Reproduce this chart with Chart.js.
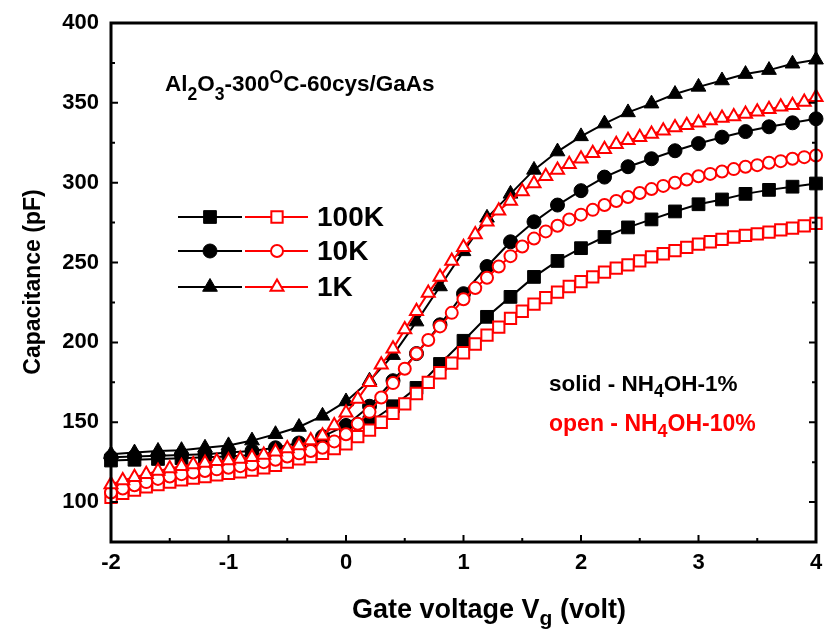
<!DOCTYPE html>
<html>
<head>
<meta charset="utf-8">
<script src="https://cdn.jsdelivr.net/npm/chart.js@4.4.1/dist/chart.umd.min.js"></script>
<style>
  body { margin: 0; background: #fff; }
  #cv { display: block; }
</style>
</head>
<body>
<canvas id="cv" width="826" height="634"></canvas>
<script>
// gate voltage for the solid (NH4OH-1%) curves, every 0.2 V
var vSolid = [-2, -1.8, -1.6, -1.4, -1.2, -1, -0.8, -0.6, -0.4, -0.2, 0, 0.2, 0.4, 0.6, 0.8, 1,
  1.2, 1.4, 1.6, 1.8, 2, 2.2, 2.4, 2.6, 2.8, 3, 3.2, 3.4, 3.6, 3.8, 4];

// gate voltage for the open (NH4OH-10%) curves, every 0.1 V
var vOpen = [-2, -1.9, -1.8, -1.7, -1.6, -1.5, -1.4, -1.3, -1.2, -1.1, -1, -0.9, -0.8, -0.7, -0.6,
  -0.5, -0.4, -0.3, -0.2, -0.1, 0, 0.1, 0.2, 0.3, 0.4, 0.5, 0.6, 0.7, 0.8, 0.9, 1, 1.1, 1.2, 1.3,
  1.4, 1.5, 1.6, 1.7, 1.8, 1.9, 2, 2.1, 2.2, 2.3, 2.4, 2.5, 2.6, 2.7, 2.8, 2.9, 3, 3.1, 3.2, 3.3,
  3.4, 3.5, 3.6, 3.7, 3.8, 3.9, 4];

// capacitance (pF), solid
var c100kSolid = [126, 126.5, 127, 127.5, 128, 128.5, 129.5, 131, 133, 136, 142, 150, 160, 171.5,
  186.5, 201, 216, 228.5, 241, 251, 259, 266, 272, 277, 282, 286.5, 289.5, 293, 295.5, 297.5, 299.5];
var c10kSolid = [128, 128.5, 129, 129.5, 130, 131, 132, 134, 137, 141, 148, 160, 176, 193, 211,
  230.5, 247.5, 263, 275.5, 286, 295, 303.5, 310, 315, 320, 324.5, 328.5, 332, 335, 337.5, 340];
var c1kSolid = [130, 131, 132, 132.5, 134, 135.5, 138.5, 142.5, 147, 154, 163, 176, 192, 213, 235,
  257, 278, 293, 308, 319.5, 329, 337, 344, 349.5, 355.5, 360, 364, 368, 370.5, 374.5, 377];

// capacitance (pF), open
var c100kOpen = [103, 105.5, 107.5, 109.5, 111, 112.5, 114, 115, 116, 117,
  118, 119, 120, 121.5, 123, 125, 127, 128.5, 130.5, 133.5,
  136.5, 141, 145, 150, 155.5, 161.5, 168, 175, 181, 187,
  193.5, 199, 204.5, 209.5, 215, 219.5, 224, 228, 231.5, 235,
  238, 241, 244, 246.5, 248.5, 251, 253.5, 255.5, 257.5, 259.5,
  261.5, 263, 264.5, 266, 267, 268, 269, 270.5, 271.5, 273, 274.5];
var c10kOpen = [106, 108.5, 110.5, 112.5, 114.5, 116, 117.5, 118.5, 119.5, 120.5,
  121.5, 122.5, 123.5, 125, 126.5, 128.5, 130.5, 132, 134, 138,
  142.5, 149, 156.5, 165.5, 174.5, 183.5, 193, 201.5, 210, 218.5,
  227, 234, 240.5, 247.5, 254, 260, 265, 269.5, 273, 277,
  280, 283, 286, 288.5, 291, 293.5, 296, 298, 300, 302,
  304, 305.5, 307, 308.5, 310, 311, 312.5, 313.5, 315, 316, 317];
var c1kOpen = [111, 113.5, 115.5, 117.5, 119.5, 121, 122.5, 123.5, 124.5, 125.5,
  126, 127, 128, 129.5, 131.5, 133.5, 135.5, 138.5, 141.5, 148,
  156, 164.5, 175, 186, 196, 208, 219.5, 231, 241, 251,
  259.5, 267.5, 275.5, 282.5, 288.5, 294.5, 299.5, 304, 308, 311.5,
  315, 318.5, 321, 324, 326.5, 328.5, 330.5, 332.5, 334.5, 336,
  337.5, 339, 340.5, 341.5, 343, 344.5, 346, 347.5, 348.5, 350.5, 353.5];

var xTicks = [-2, -1, 0, 1, 2, 3, 4];
var yTicks = [100, 150, 200, 250, 300, 350, 400];
var legendLabels = ['100K', '10K', '1K'];

var FONT = '"Liberation Sans", Arial, sans-serif';
var RED = '#ff0000';

function pairs(xs, ys) {
  return xs.map(function(x, i) { return { x: x, y: ys[i] }; });
}

function openSet(label, data, style, r) {
  return {
    label: label, data: data, borderColor: RED, borderWidth: 2,
    pointStyle: style, pointRadius: r, pointBackgroundColor: '#fff',
    pointBorderColor: RED, pointBorderWidth: 2, clip: false
  };
}

function solidSet(label, data, style, r) {
  return {
    label: label, data: data, borderColor: '#000', borderWidth: 2,
    pointStyle: style, pointRadius: r, pointBackgroundColor: '#000',
    pointBorderColor: '#000', pointBorderWidth: 1, clip: false
  };
}

// text with sub/superscript pieces: [text, 'sub'|'sup'|null]
function drawRich(ctx, parts, x, y, size, color, subDy, supDy) {
  ctx.fillStyle = color;
  ctx.textBaseline = 'alphabetic';
  ctx.textAlign = 'left';
  parts.forEach(function(p) {
    var s = p[1] ? size * 0.78 : size;
    var dy = p[1] === 'sub' ? subDy : (p[1] === 'sup' ? supDy : 0);
    ctx.font = 'bold ' + s + 'px ' + FONT;
    ctx.fillText(p[0], x, y + dy);
    x += ctx.measureText(p[0]).width;
  });
}

var extras = {
  id: 'extras',
  afterDatasetsDraw: function(chart) {
    var ctx = chart.ctx;
    var a = chart.chartArea;
    var xs = chart.scales.x;
    var ys = chart.scales.y;
    var i, p, len;

    ctx.save();
    ctx.strokeStyle = '#000';

    // tick marks, inside, on left / right / bottom
    ctx.lineWidth = 2;
    ctx.beginPath();
    for (i = -2; i <= 4; i += 0.5) {
      p = xs.getPixelForValue(i);
      len = (i % 1 === 0) ? 7 : 4;
      ctx.moveTo(p, a.bottom);
      ctx.lineTo(p, a.bottom - len);
    }
    for (i = 75; i <= 400; i += 25) {
      p = ys.getPixelForValue(i);
      len = (i % 50 === 0) ? 7 : 4;
      ctx.moveTo(a.left, p);
      ctx.lineTo(a.left + len, p);
      ctx.moveTo(a.right, p);
      ctx.lineTo(a.right - len, p);
    }
    ctx.stroke();

    // frame
    ctx.lineWidth = 3;
    ctx.strokeRect(a.left, a.top, a.right - a.left, a.bottom - a.top);

    // legend
    var rows = [217, 251, 287];
    var styles = ['rect', 'circle', 'triangle'];
    var solidR = [9, 7, 8.5];
    var openR = [8, 6, 7.5];
    for (i = 0; i < 3; i++) {
      ctx.lineWidth = 2;
      ctx.strokeStyle = '#000';
      ctx.beginPath();
      ctx.moveTo(178, rows[i]);
      ctx.lineTo(242, rows[i]);
      ctx.stroke();
      ctx.fillStyle = '#000';
      ctx.lineWidth = 1;
      Chart.helpers.drawPoint(ctx, { pointStyle: styles[i], radius: solidR[i], rotation: 0, borderWidth: 1 }, 210, rows[i]);

      ctx.strokeStyle = RED;
      ctx.lineWidth = 2;
      ctx.beginPath();
      ctx.moveTo(245, rows[i]);
      ctx.lineTo(308, rows[i]);
      ctx.stroke();
      ctx.fillStyle = '#fff';
      Chart.helpers.drawPoint(ctx, { pointStyle: styles[i], radius: openR[i], rotation: 0, borderWidth: 2 }, 277, rows[i]);

      ctx.fillStyle = '#000';
      ctx.font = 'bold 28px ' + FONT;
      ctx.textBaseline = 'middle';
      ctx.textAlign = 'left';
      ctx.fillText(legendLabels[i], 317, rows[i] + 1);
    }

    // sample label
    drawRich(ctx, [['Al', null], ['2', 'sub'], ['O', null], ['3', 'sub'], ['-300', null], ['O', 'sup'], ['C-60cys/GaAs', null]],
      165, 91, 22.5, '#000', 9, -8);

    drawRich(ctx, [['solid - NH', null], ['4', 'sub'], ['OH-1%', null]], 549, 391, 22.5, '#000', 6, 0);
    drawRich(ctx, [['open - NH', null], ['4', 'sub'], ['OH-10%', null]], 549, 431, 23, RED, 6, 0);

    // axis titles
    drawRich(ctx, [['Gate voltage V', null], ['g', 'sub'], [' (volt)', null]], 352, 618, 27, '#000', 7, 0);

    ctx.save();
    ctx.translate(40, 282);
    ctx.rotate(-Math.PI / 2);
    ctx.font = 'bold 23px ' + FONT;
    ctx.fillStyle = '#000';
    ctx.textAlign = 'center';
    ctx.textBaseline = 'alphabetic';
    ctx.fillText('Capacitance (pF)', 0, 0);
    ctx.restore();

    ctx.restore();
  }
};

var ctx = document.getElementById('cv');
var chart = new Chart(ctx, {
  type: 'line',
  data: {
    datasets: [
      openSet('1K open', pairs(vOpen, c1kOpen), 'triangle', 7.5),
      openSet('10K open', pairs(vOpen, c10kOpen), 'circle', 6),
      openSet('100K open', pairs(vOpen, c100kOpen), 'rect', 8),
      solidSet('1K solid', pairs(vSolid, c1kSolid), 'triangle', 8.5),
      solidSet('10K solid', pairs(vSolid, c10kSolid), 'circle', 7),
      solidSet('100K solid', pairs(vSolid, c100kSolid), 'rect', 9)
    ]
  },
  options: {
    responsive: false,
    animation: false,
    devicePixelRatio: 1,
    layout: { padding: { top: 23, right: 6, left: 0, bottom: 0 } },
    plugins: { legend: { display: false }, tooltip: { enabled: false } },
    elements: { line: { tension: 0 } },
    scales: {
      x: {
        type: 'linear', min: -2, max: 4,
        grid: { display: false, drawTicks: false },
        border: { display: false },
        afterBuildTicks: function(scale) {
          scale.ticks = xTicks.map(function(v) { return { value: v }; });
        },
        afterFit: function(scale) {
          scale.height = 92;
          scale.paddingLeft = 0;
          scale.paddingRight = 0;
        },
        ticks: {
          color: '#000', padding: 8, maxRotation: 0, autoSkip: false,
          font: { family: FONT, size: 22, weight: 'bold' }
        }
      },
      y: {
        type: 'linear', min: 75, max: 400,
        grid: { display: false, drawTicks: false },
        border: { display: false },
        afterBuildTicks: function(scale) {
          scale.ticks = yTicks.map(function(v) { return { value: v }; });
        },
        afterFit: function(scale) {
          scale.width = 111;
          scale.paddingTop = 0;
          scale.paddingBottom = 0;
        },
        ticks: {
          color: '#000', padding: 12, autoSkip: false,
          font: { family: FONT, size: 22, weight: 'bold' }
        }
      }
    }
  },
  plugins: [extras]
});
</script>
</body>
</html>
